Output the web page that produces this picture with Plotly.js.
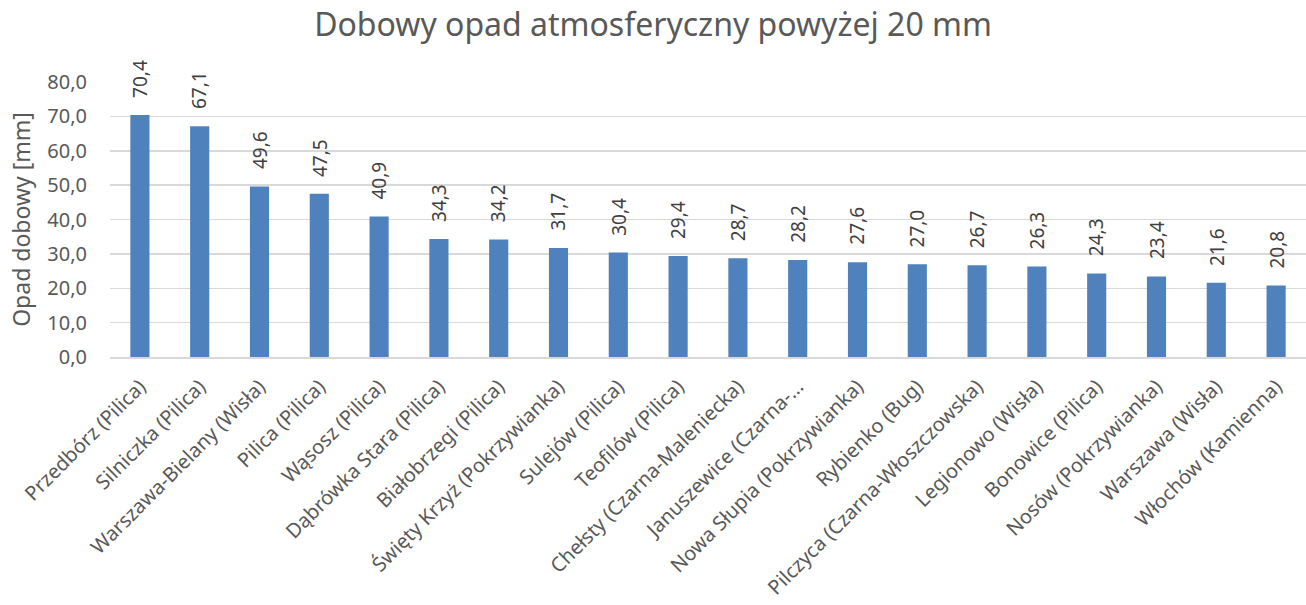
<!DOCTYPE html>
<html><head><meta charset="utf-8">
<script src="https://cdn.plot.ly/plotly-3.0.1.min.js"></script>
<style>body{margin:0;background:#fff}#c{width:1306px;height:605px}</style>
</head><body><div id="c"></div>
<script>
const stations = ["Przedbórz (Pilica)","Silniczka (Pilica)","Warszawa-Bielany (Wisła)","Pilica (Pilica)","Wąsosz (Pilica)","Dąbrówka Stara (Pilica)","Białobrzegi (Pilica)","Święty Krzyż (Pokrzywianka)","Sulejów (Pilica)","Teofilów (Pilica)","Chełsty (Czarna-Maleniecka)","Januszewice (Czarna-…","Nowa Słupia (Pokrzywianka)","Rybienko (Bug)","Pilczyca (Czarna-Włoszczowska)","Legionowo (Wisła)","Bonowice (Pilica)","Nosów (Pokrzywianka)","Warszawa (Wisła)","Włochów (Kamienna)"];
const opad = [70.4,67.1,49.6,47.5,40.9,34.3,34.2,31.7,30.4,29.4,28.7,28.2,27.6,27.0,26.7,26.3,24.3,23.4,21.6,20.8];
const labels = opad.map(v => v.toFixed(1).replace('.', ','));
const font = "Noto Sans, Open Sans, sans-serif";
const annotations = stations.map((s, i) => ({
  x: s, y: opad[i], xref: 'x', yref: 'y', text: labels[i], showarrow: false,
  textangle: -90, xanchor: 'center', yanchor: 'bottom', yshift: 15,
  font: {family: font, size: 19, color: '#404040'}
}));
Plotly.newPlot('c', [{
  type: 'bar', x: stations, y: opad,
  marker: {color: '#4f81bd'},
  hoverinfo: 'none'
}], {
  width: 1306, height: 605,
  margin: {l: 110, r: 0, t: 82, b: 248},
  paper_bgcolor: '#fff', plot_bgcolor: '#fff',
  separators: ', ',
  bargap: 0.68,
  annotations: annotations,
  title: {text: 'Dobowy opad atmosferyczny powyżej 20 mm', font: {family: font, size: 32, color: '#595959'}, x: 0.5, xanchor: 'center', y: 0.978, yanchor: 'top'},
  xaxis: {tickangle: -45, tickfont: {family: font, size: 20, color: '#595959'}, showline: true, linecolor: '#d9d9d9', linewidth: 2,
    ticks: 'outside', ticklen: 8, tickcolor: 'rgba(0,0,0,0)', automargin: false},
  yaxis: {range: [0, 80], dtick: 10, tickformat: '.1f', showgrid: true, gridcolor: '#d9d9d9', gridwidth: 1.5, zeroline: false,
    tickfont: {family: font, size: 20, color: '#595959'}, ticks: 'outside', ticklen: 18, tickcolor: 'rgba(0,0,0,0)',
    title: {text: 'Opad dobowy [mm]', font: {family: font, size: 23, color: '#595959'}, standoff: 10}, automargin: false},
  showlegend: false
}, {staticPlot: true});
</script></body></html>
